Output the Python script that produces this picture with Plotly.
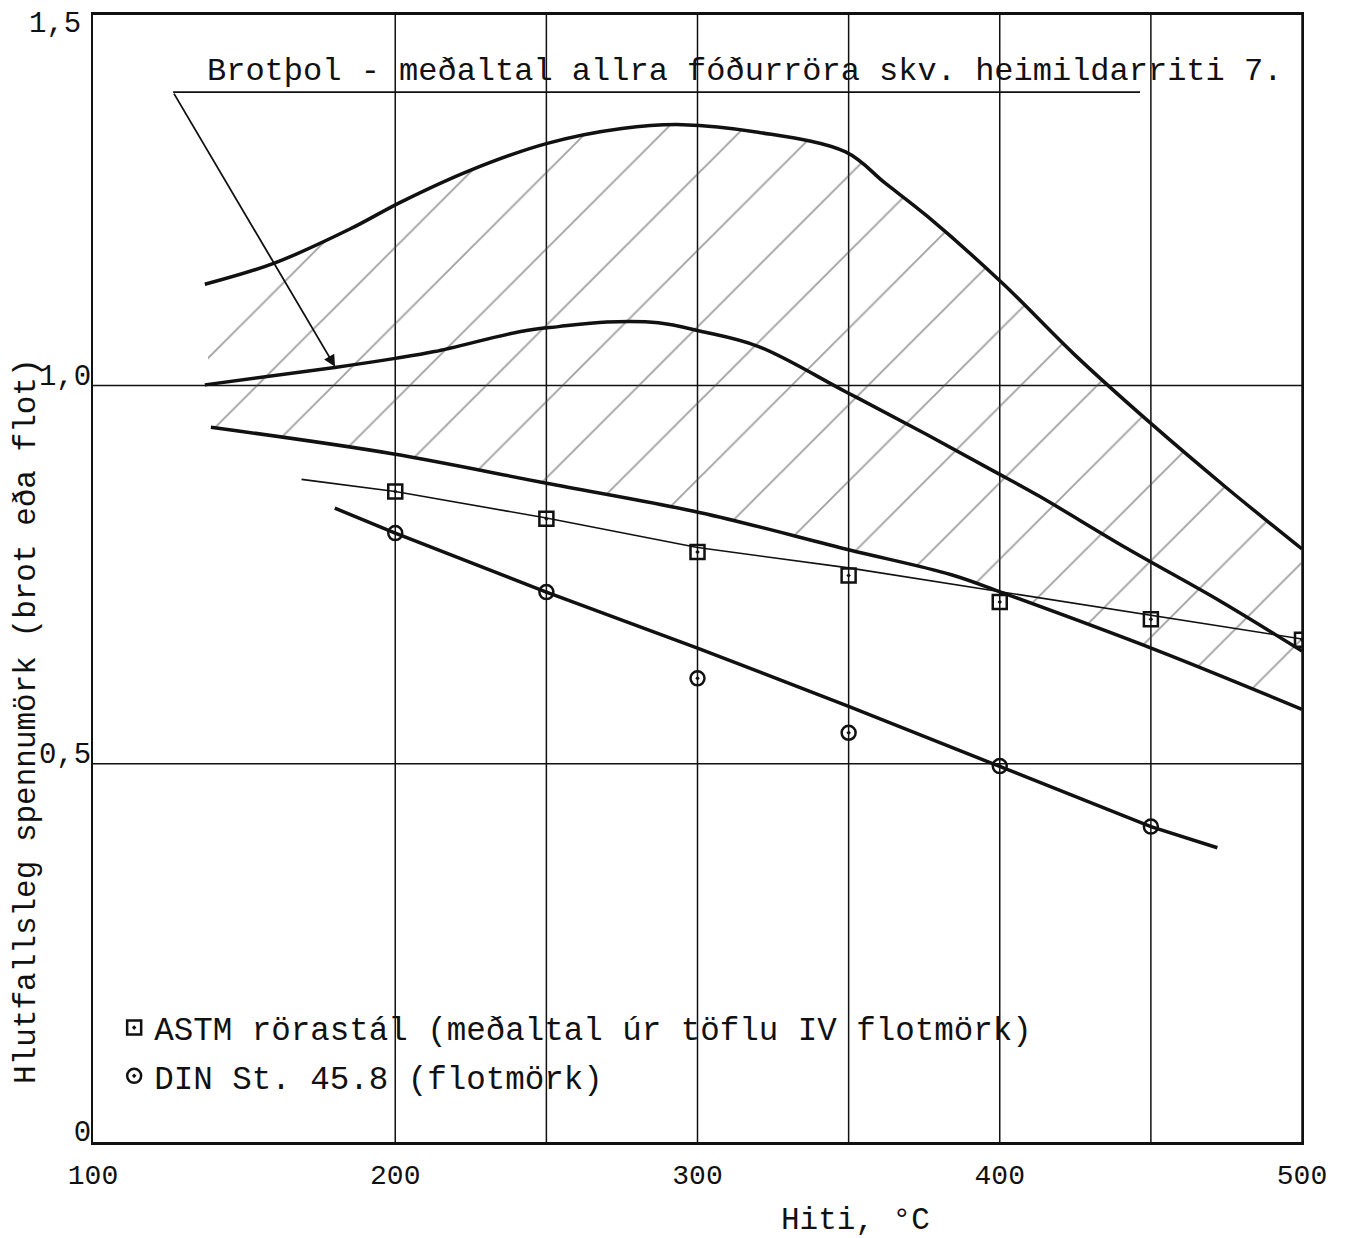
import plotly.graph_objects as go

# ---- data -------------------------------------------------------------
# Upper bound of the tensile-strength band
band_top_x = [137, 160, 185, 202, 225, 250, 275, 295, 320, 349, 362, 376, 401, 425, 450, 475, 500]
band_top_y = [1.134, 1.162, 1.207, 1.243, 1.285, 1.320, 1.340, 1.345, 1.335, 1.309, 1.268, 1.224,
              1.135, 1.040, 0.950, 0.865, 0.784]

# Mean tensile strength of all casing pipes
band_mid_x = [137, 180, 200, 213, 242, 254, 270, 287, 301, 320, 349, 376, 398, 413, 442, 473, 500]
band_mid_y = [1.001, 1.024, 1.036, 1.045, 1.072, 1.078, 1.084, 1.083, 1.072, 1.052, 0.992, 0.935,
              0.887, 0.854, 0.785, 0.715, 0.649]

# Lower bound of the band
band_low_x = [139, 199, 250, 301, 350, 384, 401, 452, 500]
band_low_y = [0.945, 0.910, 0.871, 0.832, 0.783, 0.750, 0.726, 0.650, 0.572]

# ASTM pipe steel, mean yield strength (table IV)
astm_x = [200, 250, 300, 350, 400, 450, 500]
astm_y = [0.860, 0.824, 0.780, 0.749, 0.714, 0.691, 0.664]
astm_fit_x = [169, 200, 250, 300, 350, 400, 450, 500]
astm_fit_y = [0.876, 0.860, 0.825, 0.786, 0.759, 0.728, 0.696, 0.665]

# DIN St. 45.8 yield strength
din_x = [200, 250, 300, 350, 400, 450]
din_y = [0.805, 0.727, 0.613, 0.541, 0.497, 0.417]
din_fit_x = [180, 200, 250, 300, 350, 400, 450, 472]
din_fit_y = [0.838, 0.805, 0.727, 0.653, 0.576, 0.497, 0.417, 0.389]

x_ticks = [100, 200, 300, 400, 500]
y_ticks = [0, 0.5, 1.0]
y_tick_text = ["0", "0,5", "1,0"]
grid_x = [200, 250, 300, 350, 400, 450, 500]
grid_y = [0.5, 1.0]

X_RANGE = [100, 500]
Y_RANGE = [0, 1.49]

band_label = "Brotþol - meðaltal allra fóðurröra skv. heimildarriti 7."
astm_label = "ASTM rörastál (meðaltal úr töflu IV flotmörk)"
din_label = "DIN St. 45.8 (flotmörk)"
x_title = "Hiti, °C"
y_title = "Hlutfallsleg spennumörk (brot eða flot)"

# leader line from the band label to the mean curve
leader_start = (126.5, 1.388)
leader_end_x = 446.4
arrow_tip = (180.1, 1.025)
label_pos = (315.4, 1.415)

FONT = "Liberation Mono, DejaVu Sans Mono, monospace"
INK = "#111111"

fig = go.Figure()

# hatched band between lower and upper bound
fig.add_trace(go.Scatter(
    x=band_low_x, y=band_low_y, mode="lines", line=dict(color=INK, width=3.5, shape="spline"),
    showlegend=False, hoverinfo="skip"))
fig.add_trace(go.Scatter(
    x=band_top_x, y=band_top_y, mode="lines", line=dict(color=INK, width=3.5, shape="spline"),
    fill="tonexty", fillcolor="rgba(0,0,0,0)",
    fillpattern=dict(shape="/", size=54, solidity=0.035, fgcolor="#444444",
                     bgcolor="rgba(0,0,0,0)"),
    showlegend=False, hoverinfo="skip"))
fig.add_trace(go.Scatter(
    x=band_mid_x, y=band_mid_y, mode="lines", line=dict(color=INK, width=3.5, shape="spline"),
    showlegend=False))

# ASTM fit line and points
fig.add_trace(go.Scatter(
    x=astm_fit_x, y=astm_fit_y, mode="lines", line=dict(color=INK, width=1.6),
    showlegend=False))
fig.add_trace(go.Scatter(
    x=astm_x, y=astm_y, mode="markers", name=astm_label, legendgroup="a",
    marker=dict(symbol="square-open-dot", size=14, color=INK, line=dict(width=2.5, color=INK))))

# DIN fit line and points
fig.add_trace(go.Scatter(
    x=din_fit_x, y=din_fit_y, mode="lines", line=dict(color=INK, width=3.5),
    showlegend=False))
fig.add_trace(go.Scatter(
    x=din_x, y=din_y, mode="markers", name=din_label, legendgroup="b",
    marker=dict(symbol="circle-open-dot", size=14, color=INK, line=dict(width=2.5, color=INK))))

shapes = []
for gx in grid_x:
    shapes.append(dict(type="line", xref="x", yref="paper", x0=gx, x1=gx, y0=0, y1=1,
                       line=dict(color=INK, width=1.5), layer="below"))
for gy in grid_y:
    shapes.append(dict(type="line", xref="paper", yref="y", x0=0, x1=1, y0=gy, y1=gy,
                       line=dict(color=INK, width=1.5), layer="below"))
shapes.append(dict(type="line", xref="x", yref="y",
                   x0=leader_start[0], y0=leader_start[1], x1=leader_end_x, y1=leader_start[1],
                   line=dict(color=INK, width=1.6)))

annotations = [
    dict(x=label_pos[0], y=label_pos[1], xref="x", yref="y", text=band_label, showarrow=False,
         font=dict(family=FONT, size=32, color=INK), xanchor="center", yanchor="middle"),
    dict(x=arrow_tip[0], y=arrow_tip[1], ax=leader_start[0], ay=leader_start[1],
         xref="x", yref="y", axref="x", ayref="y", text="", showarrow=True,
         arrowhead=2, arrowsize=1.3, arrowwidth=1.8, arrowcolor=INK, standoff=0),
    dict(x=0, y=1, xref="paper", yref="paper", text="1,5", showarrow=False,
         font=dict(family=FONT, size=29, color=INK), xanchor="right", yanchor="middle",
         xshift=-10, yshift=-9),
    dict(x=-0.0546, y=0.3736, xref="paper", yref="paper", text=y_title, showarrow=False,
         textangle=-90, font=dict(family=FONT, size=31, color=INK),
         xanchor="center", yanchor="middle"),
    dict(x=0.631, y=-0.0694, xref="paper", yref="paper", text=x_title, showarrow=False,
         font=dict(family=FONT, size=31, color=INK), xanchor="center", yanchor="middle"),
]

fig.update_layout(
    width=1350, height=1238,
    margin=dict(l=93, r=48, t=13, b=96),
    paper_bgcolor="white", plot_bgcolor="white",
    font=dict(family=FONT, color=INK),
    shapes=shapes, annotations=annotations,
    showlegend=True,
    legend=dict(x=0.0175, y=0.126, xanchor="left", yanchor="top",
                bgcolor="rgba(0,0,0,0)", font=dict(family=FONT, size=32.5, color=INK),
                traceorder="grouped", tracegroupgap=3, itemwidth=30),
)
fig.update_xaxes(range=X_RANGE, tickvals=x_ticks, ticks="", showgrid=False, zeroline=False,
                 showline=True, mirror=True, linecolor=INK, linewidth=2.5,
                 tickfont=dict(family=FONT, size=28, color=INK), ticklabelstandoff=6)
fig.update_yaxes(range=Y_RANGE, tickvals=y_ticks, ticktext=y_tick_text, ticks="",
                 showgrid=False, zeroline=False,
                 showline=True, mirror=True, linecolor=INK, linewidth=2.2,
                 tickfont=dict(family=FONT, size=29, color=INK),
                 ticklabelstandoff=-6, ticklabelshift=-11)

fig.write_html("out.html")
